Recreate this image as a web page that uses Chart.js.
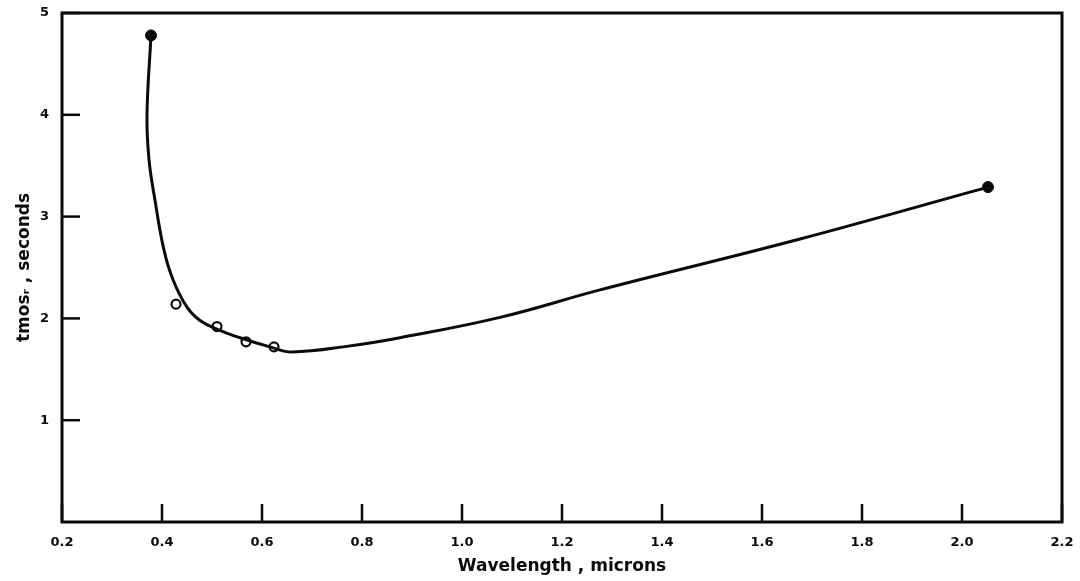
<!DOCTYPE html>
<html>
<head>
<meta charset="utf-8">
<script src="https://cdn.jsdelivr.net/npm/chart.js@4.4.1/dist/chart.umd.min.js"></script>
<style>
  html, body { margin: 0; padding: 0; background: #fff; }
  #wrap { width: 1080px; height: 581px; }
</style>
</head>
<body>
<div id="wrap"><canvas id="chartMos" width="1080" height="581"></canvas></div>
<script>
// smooth curve through the measured response, wavelength (microns) vs seconds
const curveX = [0.378, 0.370, 0.374, 0.386, 0.404, 0.422, 0.450, 0.476, 0.512, 0.556, 0.616, 0.660, 0.776, 0.876, 1.076, 1.276, 1.676, 2.052];
const curveY = [4.78, 4.00, 3.56, 3.16, 2.67, 2.38, 2.11, 1.98, 1.89, 1.81, 1.72, 1.67, 1.73, 1.81, 2.01, 2.28, 2.78, 3.29];

// open circles
const openX = [0.428, 0.510, 0.568, 0.624];
const openY = [2.14, 1.92, 1.77, 1.72];

// filled circles at both ends
const filledX = [0.378, 2.052];
const filledY = [4.78, 3.29];

const xTicks = [0.2, 0.4, 0.6, 0.8, 1.0, 1.2, 1.4, 1.6, 1.8, 2.0, 2.2];
const yTicks = [1, 2, 3, 4, 5];

const ink = '#0a0a0a';
const toPts = (xs, ys) => xs.map((x, i) => ({ x: x, y: ys[i] }));

// frame + inward tick marks
const framePlugin = {
  id: 'frame',
  afterDraw(chart) {
    const ctx = chart.ctx;
    const a = chart.chartArea;
    const sx = chart.scales.x, sy = chart.scales.y;
    ctx.save();
    ctx.strokeStyle = ink;
    ctx.lineWidth = 3;
    ctx.strokeRect(a.left, a.top, a.right - a.left, a.bottom - a.top);
    ctx.lineWidth = 2.5;
    xTicks.forEach(v => {
      const px = sx.getPixelForValue(v);
      ctx.beginPath();
      ctx.moveTo(px, a.bottom);
      ctx.lineTo(px, a.bottom - 18);
      ctx.stroke();
    });
    yTicks.forEach(v => {
      const py = sy.getPixelForValue(v);
      ctx.beginPath();
      ctx.moveTo(a.left, py);
      ctx.lineTo(a.left + 18, py);
      ctx.stroke();
    });
    ctx.restore();
  }
};

const ctxM = document.getElementById('chartMos');
const chartMos = new Chart(ctxM, {
  type: 'scatter',
  data: {
    datasets: [
      {
        data: toPts(curveX, curveY),
        showLine: true,
        borderColor: ink,
        borderWidth: 3,
        tension: 0.4,
        pointRadius: 0,
        fill: false
      },
      {
        data: toPts(openX, openY),
        pointStyle: 'circle',
        pointRadius: 4.5,
        pointBorderWidth: 2.2,
        pointBorderColor: ink,
        pointBackgroundColor: '#fff'
      },
      {
        data: toPts(filledX, filledY),
        pointStyle: 'circle',
        pointRadius: 5.5,
        pointBorderWidth: 1,
        pointBorderColor: ink,
        pointBackgroundColor: ink
      }
    ]
  },
  options: {
    responsive: false,
    animation: false,
    layout: { padding: { top: 13, right: 18, left: 0, bottom: 0 } },
    plugins: {
      legend: { display: false },
      tooltip: { enabled: false }
    },
    scales: {
      x: {
        type: 'linear',
        min: 0.2,
        max: 2.2,
        afterBuildTicks: s => { s.ticks = xTicks.map(v => ({ value: v })); },
        afterFit: s => { s.height = 59; },
        border: { display: false },
        grid: { display: false },
        ticks: {
          color: ink,
          font: { family: 'DejaVu Sans', size: 13, weight: 'bold' },
          padding: 5,
          maxRotation: 0,
          callback: v => v.toFixed(1)
        },
        title: {
          display: true,
          text: 'Wavelength , microns',
          color: ink,
          font: { family: 'DejaVu Sans', size: 17, weight: 'bold' },
          padding: { top: 3 }
        }
      },
      y: {
        type: 'linear',
        min: 0,
        max: 5,
        afterBuildTicks: s => { s.ticks = yTicks.map(v => ({ value: v })); },
        afterFit: s => { s.width = 62; },
        border: { display: false },
        grid: { display: false },
        ticks: {
          color: ink,
          font: { family: 'DejaVu Sans', size: 13, weight: 'bold' },
          padding: 5,
          callback: v => String(v)
        },
        title: {
          display: true,
          text: 'tmos\u1d63 , seconds',
          color: ink,
          font: { family: 'DejaVu Sans', size: 17, weight: 'bold' },
          padding: { top: 14, bottom: 10 }
        }
      }
    }
  },
  plugins: [framePlugin]
});
</script>
</body>
</html>
